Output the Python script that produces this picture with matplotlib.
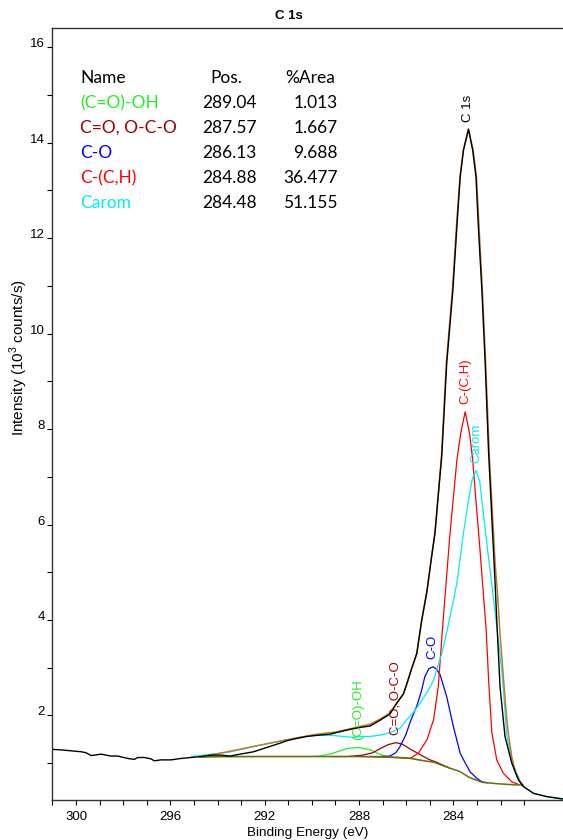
import numpy as np
import matplotlib
matplotlib.use("Agg")
from matplotlib import pyplot as plt
from matplotlib.ticker import FixedLocator

plt.rcParams['font.family'] = ['Liberation Sans', 'DejaVu Sans']
plt.rcParams['mathtext.fontset'] = 'custom'
plt.rcParams['mathtext.rm'] = 'Liberation Sans'

# measured spectrum (binding energy in eV, intensity in 10^3 counts/s)
data_x = [301.02, 300.64, 300.22, 299.78, 299.58, 299.36, 298.94, 298.52, 298.23, 297.81,
          297.53, 297.38, 297.10, 296.82, 296.68, 296.40, 295.97, 295.55, 295.12, 294.70,
          294.27, 293.89, 293.47, 293.04, 292.47, 291.91, 291.35, 291.07, 290.64, 290.22,
          289.65, 289.22, 288.80, 288.38, 287.95, 287.53, 287.11, 286.69, 286.40, 286.12,
          285.98, 285.79, 285.55, 285.34, 285.12, 284.93, 284.78, 284.49, 284.28, 284.02,
          283.85, 283.71, 283.57, 283.36, 283.18, 283.04, 282.94, 282.79, 282.65, 282.51,
          282.37, 282.23, 282.15, 282.02, 281.81, 281.52, 281.24, 281.03, 280.60, 280.04,
          279.61, 279.35]
data_y = [1.29, 1.28, 1.26, 1.24, 1.22, 1.16, 1.19, 1.15, 1.15, 1.10,
          1.08, 1.12, 1.12, 1.09, 1.05, 1.07, 1.07, 1.10, 1.12, 1.14,
          1.17, 1.17, 1.15, 1.19, 1.24, 1.33, 1.42, 1.47, 1.52, 1.56,
          1.59, 1.61, 1.66, 1.71, 1.75, 1.78, 1.90, 2.03, 2.26, 2.45,
          2.65, 2.95, 3.3, 4.0, 4.6, 5.3, 5.82, 7.45, 9.38, 10.91,
          12.24, 13.28, 13.84, 14.28, 13.84, 13.28, 12.24, 10.91, 9.38, 7.56,
          6.16, 4.77, 3.9, 2.60, 1.56, 1.0, 0.65, 0.51, 0.37, 0.30,
          0.27, 0.25]

# fit envelope
env_x = [294.75, 293.88, 292.48, 291.08, 289.89, 289.03, 288.38, 287.95, 287.52, 287.09,
         286.69, 286.40, 286.12, 285.98, 285.79, 285.55, 285.34, 285.12, 284.93, 284.78,
         284.50, 284.30, 284.04, 283.87, 283.72, 283.58, 283.36, 283.16, 283.02, 282.91,
         282.77, 282.63, 282.47, 282.34, 282.23, 282.12, 282.02, 281.91, 281.80, 281.69,
         281.53, 281.37, 281.15, 281.05]
env_y = [1.13, 1.21, 1.35, 1.49, 1.60, 1.65, 1.72, 1.77, 1.82, 1.93,
         2.05, 2.26, 2.45, 2.65, 2.95, 3.3, 4.0, 4.6, 5.3, 5.82,
         7.45, 9.38, 10.91, 12.24, 13.28, 13.84, 14.28, 13.84, 13.28, 12.24,
         10.91, 9.38, 7.4, 6.2, 5.2, 4.5, 3.7, 3.0, 2.3, 1.7,
         1.15, 0.8, 0.6, 0.55]

# Shirley background
bg_x = [294.75, 293.88, 292.27, 290.65, 289.24, 287.95, 286.87, 286.33, 285.79, 285.36,
        284.82, 284.17, 283.74, 283.31, 282.77, 282.12, 281.48, 281.05]
bg_y = [1.13, 1.14, 1.14, 1.14, 1.14, 1.14, 1.13, 1.12, 1.10, 1.06,
        1.02, 0.90, 0.83, 0.70, 0.60, 0.57, 0.55, 0.54]

# components
cooh_x = [294.75, 292.27, 290.11, 289.68, 289.24, 288.92, 288.49, 288.03, 287.52, 287.09,
          286.66, 286.22, 285.79, 285.36]
cooh_y = [1.13, 1.14, 1.14, 1.15, 1.19, 1.24, 1.31, 1.33, 1.28, 1.18,
          1.12, 1.11, 1.10, 1.06]

co_oco_x = [289.24, 288.49, 287.84, 287.41, 287.09, 286.76, 286.44, 286.17, 285.84, 285.41,
            285.04, 284.71, 284.17]
co_oco_y = [1.14, 1.14, 1.17, 1.22, 1.31, 1.39, 1.43, 1.40, 1.30, 1.18,
            1.08, 1.02, 0.90]

c_o_x = [287.95, 287.09, 286.69, 286.44, 286.26, 286.01, 285.84, 285.55, 285.36, 285.21,
         285.04, 284.87, 284.71, 284.56, 284.28, 284.00, 283.85, 283.71, 283.47, 283.29,
         283.04, 282.79, 282.55]
c_o_y = [1.14, 1.14, 1.15, 1.22, 1.35, 1.6, 1.85, 2.2, 2.5, 2.81,
         2.98, 3.02, 2.97, 2.85, 2.39, 1.77, 1.48, 1.21, 0.98, 0.82,
         0.70, 0.61, 0.59]

cch_x = [287.41, 286.33, 285.84, 285.48, 285.12, 284.84, 284.64, 284.44, 284.28, 284.14,
         283.85, 283.69, 283.50, 283.31, 283.18, 283.04, 282.87, 282.61, 282.50, 282.37,
         282.16, 281.88, 281.52, 281.26]
cch_y = [1.14, 1.12, 1.10, 1.21, 1.49, 1.91, 2.6, 3.95, 4.95, 5.82,
         7.35, 7.9, 8.36, 7.9, 7.35, 6.5, 5.47, 3.8, 2.7, 1.65,
         1.07, 0.79, 0.61, 0.56]

carom_x = [295.12, 293.89, 293.43, 292.48, 291.07, 289.93, 289.08, 288.24, 287.82, 287.53,
           287.09, 286.69, 286.26, 285.98, 285.68, 285.41, 285.12, 284.84, 284.49, 284.21,
           283.85, 283.57, 283.36, 283.20, 283.04, 282.88, 282.79, 282.55, 282.31, 282.12,
           281.96, 281.88, 281.74, 281.58, 281.45, 281.10, 280.60, 280.04, 279.35]
carom_y = [1.14, 1.21, 1.24, 1.35, 1.49, 1.59, 1.58, 1.54, 1.56, 1.56,
           1.59, 1.64, 1.73, 1.91, 2.07, 2.26, 2.48, 2.74, 3.30, 3.9,
           4.77, 5.82, 6.51, 6.95, 7.13, 6.9, 6.51, 5.47, 4.5, 3.7,
           3.0, 2.55, 1.6, 1.2, 0.96, 0.54, 0.37, 0.30, 0.25]

names = ['(C=O)-OH', 'C=O, O-C-O', 'C-O', 'C-(C,H)', 'Carom']
positions = ['289.04', '287.57', '286.13', '284.88', '284.48']
areas = ['1.013', '1.667', '9.688', '36.477', '51.155']
colors = ['#22ee22', '#990000', '#0000ff', '#ff0000', '#00eeee']
comp_x = [cooh_x, co_oco_x, c_o_x, cch_x, carom_x]
comp_y = [cooh_y, co_oco_y, c_o_y, cch_y, carom_y]

x_major = [300, 296, 292, 288, 284]
x_minor = [301, 299, 298, 297, 295, 294, 293, 291, 290, 289, 287, 286, 285, 283, 282, 281]
y_major = [2, 4, 6, 8, 10, 12, 14, 16]
y_minor = [1, 3, 5, 7, 9, 11, 13, 15]

W, H = 563, 840
fig = plt.figure(figsize=(W / 100, H / 100), dpi=100)
ax = fig.add_axes([52 / W, 40.5 / H, 511 / W, 771.5 / H])

for cx, cy, col in zip(comp_x, comp_y, colors):
    ax.plot(cx, cy, color=col, lw=0.9)
ax.plot(bg_x, bg_y, color='#6b6a12', lw=1.1)
ax.plot(env_x, env_y, color='#c07a30', lw=1.1)
ax.plot(data_x, data_y, color='black', lw=1.0)

# peak labels, rotated, just above each maximum
for cx, cy, col, nm in zip(comp_x, comp_y, colors, names):
    i = int(np.argmax(cy))
    ax.text(cx[i], cy[i] + 0.16, nm, rotation=90, ha='center', va='bottom',
            color=col, fontsize=9.5)
i = int(np.argmax(data_y))
ax.text(data_x[i], data_y[i] + 0.16, 'C 1s', rotation=90, ha='center', va='bottom',
        color='black', fontsize=9.5)

ax.set_xlim(301.02, 279.35)
ax.set_ylim(0.24, 16.4)
ax.xaxis.set_major_locator(FixedLocator(x_major))
ax.xaxis.set_minor_locator(FixedLocator(x_minor))
ax.yaxis.set_major_locator(FixedLocator(y_major))
ax.yaxis.set_minor_locator(FixedLocator(y_minor))
ax.tick_params(which='both', direction='out', length=3.6, width=0.8, labelsize=9.5)
ax.tick_params(axis='x', which='both', pad=5)
ax.tick_params(axis='y', which='both', pad=1.5)
plt.setp(ax.get_yticklabels(), va='baseline')

for s in ['left', 'top', 'bottom']:
    ax.spines[s].set_linewidth(1.0)
    ax.spines[s].set_color('#333333')
ax.spines['right'].set_visible(False)

fig.text(289 / W, 1 - 16 / H, 'C 1s', fontsize=9.5, fontweight='bold', ha='center', va='center')
ax.set_xlabel('Binding Energy (eV)', fontsize=9.7)
ax.xaxis.set_label_coords(0.5, -0.035)
ax.set_ylabel('Intensity (10$^3$ counts/s)', fontsize=11)
ax.yaxis.set_label_coords(-0.043, 0.573)

# quantification table
tf = ['Lato', 'DejaVu Sans']
ty = [78, 103, 128, 153, 178, 203]
fs = 12.5
fig.text(80 / W, 1 - ty[0] / H, 'Name', fontsize=fs, family=tf, va='center')
fig.text(226 / W, 1 - ty[0] / H, 'Pos.', fontsize=fs, family=tf, va='center', ha='center')
fig.text(335 / W, 1 - ty[0] / H, '%Area', fontsize=fs, family=tf, va='center', ha='right')
for k in range(len(names)):
    y = 1 - ty[k + 1] / H
    fig.text(80 / W, y, names[k], fontsize=fs, family=tf, va='center', color=colors[k])
    fig.text(257 / W, y, positions[k], fontsize=fs, family=tf, va='center', ha='right')
    fig.text(338 / W, y, areas[k], fontsize=fs, family=tf, va='center', ha='right')

fig.savefig('out.png', dpi=100)
